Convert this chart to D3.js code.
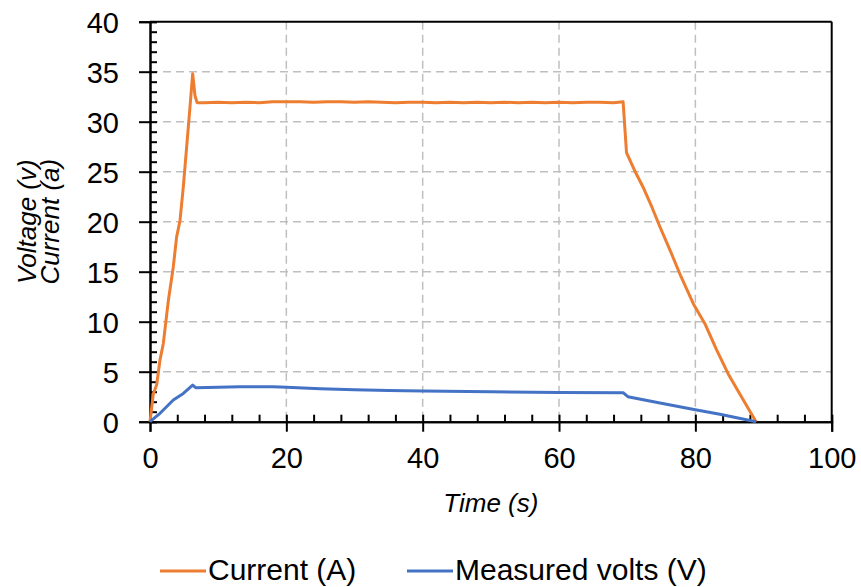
<!DOCTYPE html>
<html>
<head>
<meta charset="utf-8">
<script src="https://cdn.jsdelivr.net/npm/d3@7"></script>
<style>
  html, body { margin: 0; padding: 0; background: #fff; }
  svg { display: block; font-family: "Liberation Sans", Arial, Helvetica, sans-serif; }
</style>
</head>
<body>
<svg id="chart" width="861" height="587"></svg>
<script>
// Current trace (A) against time (s)
const currentTime = [0, 0.49, 0.98, 1.47, 1.95, 2.69, 3.42, 3.91, 4.4, 4.89, 5.38, 5.87, 6.26, 6.6, 6.9,
  8, 10, 12, 14, 16, 18, 20, 22, 24, 26, 28, 30, 32, 34, 36, 38, 40, 42, 44, 46, 48, 50, 52, 54, 56, 58,
  60, 62, 64, 66, 68, 69.4, 69.9, 71.1, 72.3, 73.6, 74.8, 76.5, 77.9, 79.7, 81.4, 83.1, 84.8, 86.5, 88.9];
const currentAmps = [0, 2.8, 3.7, 6.2, 7.8, 12.1, 15.5, 18.5, 20.1, 23.5, 27.5, 31.5, 34.8, 32.6, 31.9,
  31.9, 31.95, 31.9, 31.95, 31.9, 32.0, 32.0, 32.0, 31.95, 32.0, 32.0, 31.95, 32.0, 31.95, 31.9, 31.95,
  31.95, 31.9, 31.95, 31.9, 31.95, 31.9, 31.95, 31.9, 31.95, 31.9, 31.95, 31.9, 31.95, 31.95, 31.9, 32.0,
  26.9, 25.1, 23.5, 21.5, 19.5, 16.8, 14.5, 11.8, 9.8, 7.2, 4.8, 2.8, 0];

// Measured voltage (V) against time (s)
const voltsTime = [0, 1.47, 3.42, 4.89, 6.26, 6.7, 10, 13.2, 18, 20, 25, 30, 35, 40, 50, 60, 69.4, 70.1,
  75, 80, 83.6, 88.9];
const voltsValues = [0, 0.84, 2.17, 2.83, 3.66, 3.4, 3.45, 3.5, 3.5, 3.45, 3.3, 3.2, 3.12, 3.08, 3.0, 2.93,
  2.9, 2.5, 1.85, 1.2, 0.74, 0];

const seriesNames = ["Current (A)", "Measured volts (V)"];
const xTicks = [0, 20, 40, 60, 80, 100];
const yTicks = [0, 5, 10, 15, 20, 25, 30, 35, 40];
const xTitle = "Time (s)";
const yTitleLines = ["Voltage (v)", "Current (a)"];

const colors = ["#ED7D31", "#4472C4"];

const svg = d3.select("#chart");
const mLeft = 150, mTop = 21.7, W = 681.7, H = 400;
const x = d3.scaleLinear().domain([0, 100]).range([0, W]);
const y = d3.scaleLinear().domain([0, 40]).range([H, 0]);

const g = svg.append("g").attr("transform", `translate(${mLeft},${mTop})`);

// dashed grid
g.append("g").selectAll("line").data(yTicks.filter(d => d > 0 && d < 40)).join("line")
  .attr("x1", 0).attr("x2", W).attr("y1", d => y(d)).attr("y2", d => y(d))
  .attr("stroke", "#BFBFBF").attr("stroke-width", 1.5).attr("stroke-dasharray", "8,5");
g.append("g").selectAll("line").data(xTicks.filter(d => d > 0 && d < 100)).join("line")
  .attr("y1", 0).attr("y2", H).attr("x1", d => x(d)).attr("x2", d => x(d))
  .attr("stroke", "#BFBFBF").attr("stroke-width", 1.5).attr("stroke-dasharray", "8,5");

// frame (top and right)
g.append("line").attr("x1", 0).attr("x2", W).attr("y1", 0).attr("y2", 0).attr("stroke", "#000").attr("stroke-width", 2);
g.append("line").attr("x1", W).attr("x2", W).attr("y1", 0).attr("y2", H).attr("stroke", "#000").attr("stroke-width", 2);

function styleAxis(sel) {
  sel.select(".domain").attr("stroke", "#000").attr("stroke-width", 2);
  sel.selectAll(".tick line").attr("stroke", "#000").attr("stroke-width", 2);
  sel.selectAll(".tick text").attr("fill", "#000").style("font-size", "29px")
    .style("font-family", "'Liberation Sans', Arial, sans-serif");
}

// y axis: labelled major ticks outside, all ticks (every 1) inside
const yOut = g.append("g").call(d3.axisLeft(y).tickValues(yTicks).tickSize(11).tickPadding(20).tickFormat(d3.format("d")));
styleAxis(yOut);
yOut.selectAll(".tick text").attr("dy", "0.36em");
const yIn = g.append("g").call(d3.axisRight(y).tickValues(d3.range(0, 41, 1)).tickSize(7).tickFormat(""));
styleAxis(yIn);

// x axis: labelled major ticks outside, ticks every 4 inside
const xOut = g.append("g").attr("transform", `translate(0,${H})`)
  .call(d3.axisBottom(x).tickValues(xTicks).tickSize(10).tickPadding(16).tickFormat(d3.format("d")));
styleAxis(xOut);
const xIn = g.append("g").attr("transform", `translate(0,${H})`)
  .call(d3.axisTop(x).tickValues(d3.range(0, 101, 4)).tickSize(7).tickFormat(""));
styleAxis(xIn);

// data lines
const currentData = currentTime.map((t, i) => [t, currentAmps[i]]);
const voltsData = voltsTime.map((t, i) => [t, voltsValues[i]]);
const line = d3.line().x(d => x(d[0])).y(d => y(d[1]));

g.append("path").datum(currentData).attr("d", line).attr("fill", "none")
  .attr("stroke", colors[0]).attr("stroke-width", 3).attr("stroke-linejoin", "round");
g.append("path").datum(voltsData).attr("d", line).attr("fill", "none")
  .attr("stroke", colors[1]).attr("stroke-width", 3).attr("stroke-linejoin", "round");

// axis titles
svg.append("text").attr("x", mLeft + W / 2).attr("y", 512).attr("text-anchor", "middle")
  .style("font-size", "26px").style("font-style", "italic").text(xTitle);
svg.selectAll("text.ytitle").data(yTitleLines).join("text").attr("class", "ytitle")
  .attr("transform", (d, i) => `translate(${36 + i * 23},${mTop + H / 2}) rotate(-90)`)
  .attr("text-anchor", "middle").style("font-size", "26px").style("font-style", "italic").text(d => d);

// legend
const legend = svg.append("g");
const legendX = [160, 407];
seriesNames.forEach((name, i) => {
  const lg = legend.append("g").attr("transform", `translate(${legendX[i]},571)`);
  lg.append("line").attr("x1", 0).attr("x2", 46).attr("y1", 0).attr("y2", 0)
    .attr("stroke", colors[i]).attr("stroke-width", 3);
  lg.append("text").attr("x", 48).attr("y", 9).style("font-size", "30px").text(name);
});
</script>
</body>
</html>
